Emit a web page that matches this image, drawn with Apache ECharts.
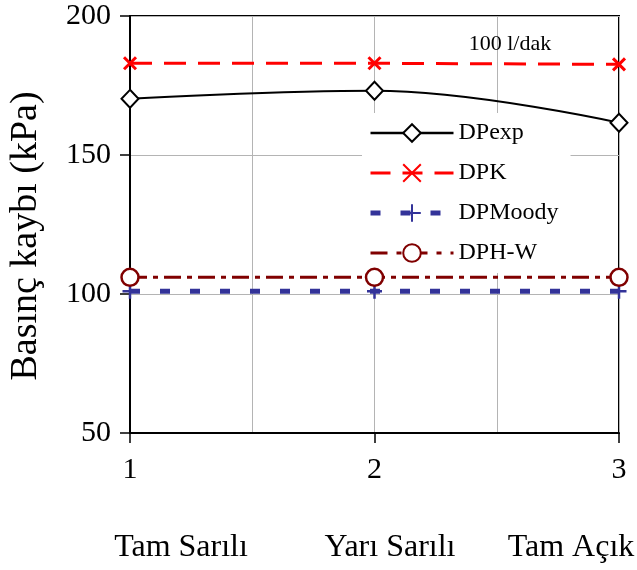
<!DOCTYPE html>
<html><head><meta charset="utf-8">
<script src="https://cdn.jsdelivr.net/npm/echarts@6/dist/echarts.min.js"></script>
<style>html,body{margin:0;padding:0;background:#fff}#c{width:637px;height:570px}</style>
</head><body><div id="c"></div>
<script>
const xValues = [1, 2, 3];
const categories = ['Tam Sarılı', 'Yarı Sarılı', 'Tam Açık'];
const DPexp = [170.2, 173.1, 161.6];
const DPK = [183, 183, 182.6];
const DPMoody = [101, 101, 101];
const DPHW = [106, 106, 106];
const seriesNames = ['DPexp', 'DPK', 'DPMoody', 'DPH-W'];
const yAxisTitle = 'Basınç kaybı (kPa)';
const note = '100 l/dak';

const F = '"Liberation Serif", "Times New Roman", serif';
const pts = arr => xValues.map((x, i) => [x, arr[i]]);
const chart = echarts.init(document.getElementById('c'));
const catX = [181, 390, 571];

const styles = [
  { symbol: 'diamond', symbolSize: [17, 18],
    lineStyle: { color: '#000', width: 2 },
    itemStyle: { color: '#fff', borderColor: '#000', borderWidth: 2 } },
  { symbol: 'path://M0 0L10 10M10 0L0 10', symbolSize: 12,
    lineStyle: { color: '#ff0000', width: 3, type: [22, 12] },
    itemStyle: { color: '#ff0000', borderColor: '#ff0000', borderWidth: 3 } },
  { symbol: 'path://M5 0L5 10M0 5L10 5', symbolSize: 15,
    lineStyle: { color: '#333399', width: 5, type: [10, 20] },
    itemStyle: { color: '#333399', borderColor: '#333399', borderWidth: 2.5 } },
  { symbol: 'circle', symbolSize: 17,
    lineStyle: { color: '#800000', width: 3, type: [17, 6, 5, 6] },
    itemStyle: { color: '#fff', borderColor: '#800000', borderWidth: 2.5 } }
];
const legendLine = [
  { color: '#000', width: 2.5, type: 'solid' },
  { color: '#ff0000', width: 3, type: [20, 12] },
  { color: '#333399', width: 5, type: [10, 20] },
  { color: '#800000', width: 3, type: [17, 9, 5, 9] }
];
const dataSets = [DPexp, DPK, DPMoody, DPHW];

chart.setOption({
  animation: false,
  backgroundColor: '#fff',
  grid: { left: 130, right: 18, top: 16, bottom: 137, show: true, borderColor: '#000', borderWidth: 2 },
  xAxis: {
    type: 'value', min: 1, max: 3, interval: 1,
    axisLine: { lineStyle: { color: '#000', width: 2 } },
    axisTick: { show: true, length: 10, lineStyle: { color: '#000', width: 1.5 } },
    axisLabel: { fontFamily: F, fontSize: 30, color: '#000', margin: 22 },
    splitLine: { show: true, lineStyle: { color: '#b4b4b4', width: 1 } },
    minorTick: { show: false, splitNumber: 2 },
    minorSplitLine: { show: true, lineStyle: { color: '#b4b4b4', width: 1 } }
  },
  yAxis: {
    type: 'value', min: 50, max: 200, interval: 50,
    axisLine: { show: true, lineStyle: { color: '#000', width: 2 } },
    axisTick: { show: true, length: 10, lineStyle: { color: '#000', width: 1.5 } },
    axisLabel: { fontFamily: F, fontSize: 30, color: '#000', margin: 19 },
    splitLine: { show: true, lineStyle: { color: '#b4b4b4', width: 1 } }
  },
  legend: {
    orient: 'vertical', left: 362, top: 113,
    backgroundColor: '#fff', padding: [8, 12, 8, 6],
    itemWidth: 83, itemHeight: 22, itemGap: 16,
    textStyle: { fontFamily: F, fontSize: 24, color: '#000' },
    data: seriesNames.map((n, i) => ({ name: n, lineStyle: legendLine[i] }))
  },
  series: seriesNames.map((n, i) => Object.assign({
    name: n, type: 'line', data: pts(dataSets[i]), clip: false, z: 5 - (i === 2 ? 2 : i === 0 ? 0 : 1),
    smooth: i === 0 ? 0.4 : false
  }, styles[i])),
  graphic: [
    ...categories.map((c, i) => ({
      type: 'text', x: catX[i], y: 532,
      style: { text: c, fontFamily: F, fontSize: 32, fill: '#000', textAlign: 'center' }
    })),
    {
      type: 'text', x: 26, y: 236, rotation: Math.PI / 2,
      style: { text: yAxisTitle, fontFamily: F, fontSize: 38, fill: '#000', textAlign: 'center', textVerticalAlign: 'middle' }
    },
    {
      type: 'text', x: 510, y: 44, z: 1,
      style: { text: note, fontFamily: F, fontSize: 22, fill: '#000', textAlign: 'center', textVerticalAlign: 'middle' }
    }
  ]
});
</script></body></html>
